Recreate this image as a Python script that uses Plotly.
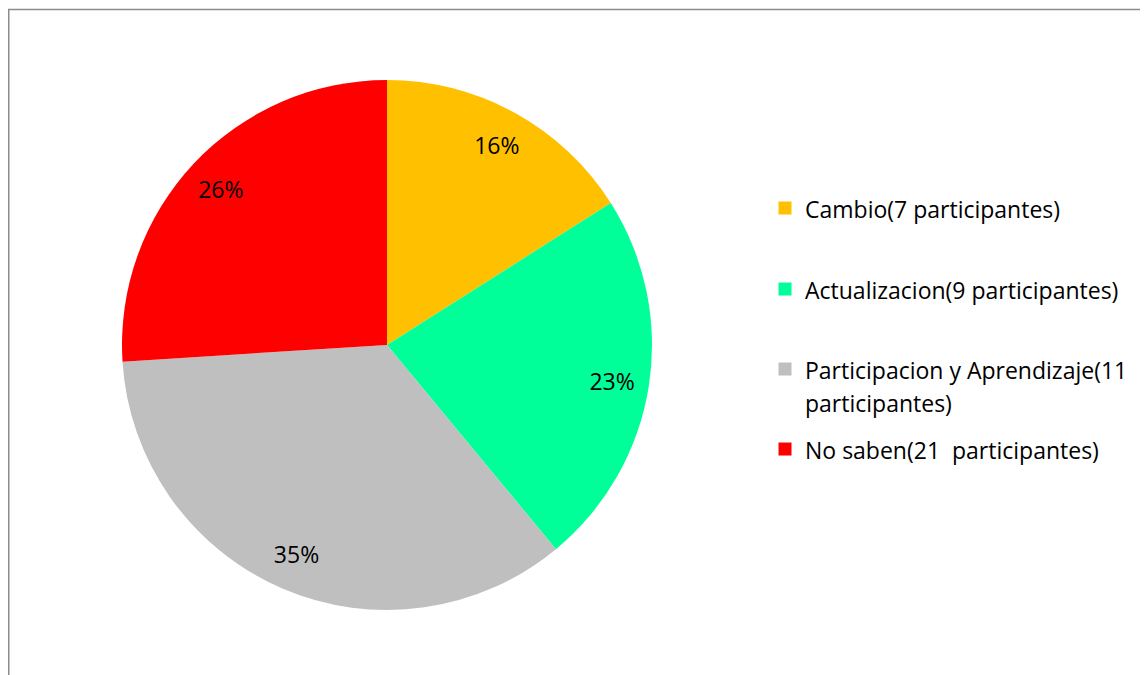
import plotly.graph_objects as go

labels = [
    "Cambio(7 participantes)",
    "Actualizacion(9 participantes)",
    "Participacion y Aprendizaje(11<br>participantes)",
    "No saben(21  participantes)",
]
values = [16, 23, 35, 26]
colors = ["#FFC000", "#00FF99", "#BFBFBF", "#FF0000"]

# figure sits inside the page body's 8px margin
W, H = 1140, 667
cx, cy, r = 379, 337, 265
dom_x = [(cx - r) / W, (cx + r) / W]
dom_y = [(H - cy - r) / H, (H - cy + r) / H]

TEXT_SIZE = 23
LEGEND_LINE_FONT = 25.4          # gives ~33px line pitch like the original
font = dict(family="Open Sans", size=TEXT_SIZE, color="#000000")

# Excel spreads the legend rows; one small legend box per row
legend_left = 757
legend_tops = [177, 258, 338, 418]

fig = go.Figure()
fig.add_trace(go.Pie(
    labels=labels,
    values=values,
    marker=dict(colors=colors, line=dict(width=0)),
    sort=False,
    direction="clockwise",
    rotation=0,
    textinfo="none",
    hoverinfo="label+percent",
    domain=dict(x=dom_x, y=dom_y),
    showlegend=False,
))
fig.add_trace(go.Pie(
    labels=labels,
    values=values,
    marker=dict(colors=["rgba(0,0,0,0)"] * 4, line=dict(width=0)),
    sort=False,
    direction="clockwise",
    rotation=0,
    hole=0.72,
    textinfo="percent",
    textposition="inside",
    insidetextorientation="horizontal",
    textfont=font,
    hoverinfo="skip",
    domain=dict(x=dom_x, y=dom_y),
    showlegend=False,
))

legend_layouts = {}
for i, (lab, col) in enumerate(zip(labels, colors)):
    key = "legend" if i == 0 else "legend%d" % (i + 1)
    fig.add_trace(go.Scatter(
        x=[None], y=[None], mode="markers",
        marker=dict(symbol="square", size=13, color=col),
        name='<span style="font-size:%dpx">%s</span>' % (TEXT_SIZE, lab),
        legend=key, showlegend=True, hoverinfo="skip",
    ))
    legend_layouts[key] = dict(
        x=legend_left / W, xanchor="left",
        y=1 - legend_tops[i] / H, yanchor="top",
        font=dict(family="Open Sans", size=LEGEND_LINE_FONT, color="#000000"),
        valign="top",
        bgcolor="rgba(0,0,0,0)",
        borderwidth=0,
    )

fig.update_layout(
    width=W, height=H,
    margin=dict(l=0, r=0, t=0, b=0),
    paper_bgcolor="white",
    plot_bgcolor="white",
    font=font,
    xaxis=dict(visible=False),
    yaxis=dict(visible=False),
    shapes=[dict(
        type="rect", xref="paper", yref="paper",
        x0=0.75 / W, x1=1.02, y0=-0.02, y1=1 - 1.5 / H,
        line=dict(color="#8C8C8C", width=1.5),
        fillcolor="rgba(0,0,0,0)",
        layer="above",
    )],
    **legend_layouts,
)

fig.write_html("out.html")
